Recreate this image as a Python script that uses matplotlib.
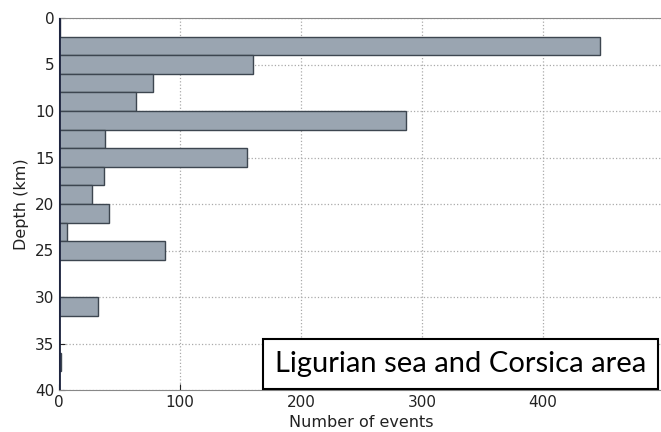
import matplotlib
matplotlib.use('Agg')
import matplotlib.pyplot as plt
import numpy as np

plt.rcParams['font.family'] = ['DejaVu Sans']

# depth bins (km) and number of events per bin
bin_edges = np.arange(0, 42, 2)
counts = [1, 447, 160, 78, 64, 287, 38, 155, 37, 27,
          41, 7, 88, 0, 0, 32, 0, 0, 1.5, 0]
area_label = 'Ligurian sea and Corsica area'

fig = plt.figure(figsize=(6.61, 4.32), dpi=100)
ax = fig.add_axes([59 / 661, 1 - 390 / 432, 605 / 661, 372 / 432])

ax.barh(bin_edges[:-1], counts, height=2, align='edge',
        color='#9aa5b1', edgecolor='#3d4650', linewidth=1.0, zorder=2)
ax.axvline(0, color='#1e2540', lw=2.0, zorder=3)

ax.set_ylim(40, 0)
ax.set_xlim(0, 500)
ax.set_yticks(np.arange(0, 45, 5))
ax.set_xticks([0, 100, 200, 300, 400])
ax.grid(True, ls=':', color='#aaaaaa', lw=0.9, zorder=0)
ax.set_axisbelow(True)
ax.tick_params(direction='in', labelsize=11, colors='#222222', length=4)
for s in ax.spines.values():
    s.set_color('#888888')
ax.set_xlabel('Number of events', fontsize=11.5, color='#222222')
ax.set_ylabel('Depth (km)', fontsize=11.5, color='#222222')

ax.text(0.664, 0.07, area_label, transform=ax.transAxes,
        fontsize=21, family=['Lato', 'DejaVu Sans'], color='black',
        ha='center', va='center',
        bbox=dict(boxstyle='square,pad=0.4', fc='white', ec='black', lw=1.5))

fig.savefig('out.png', dpi=100)
